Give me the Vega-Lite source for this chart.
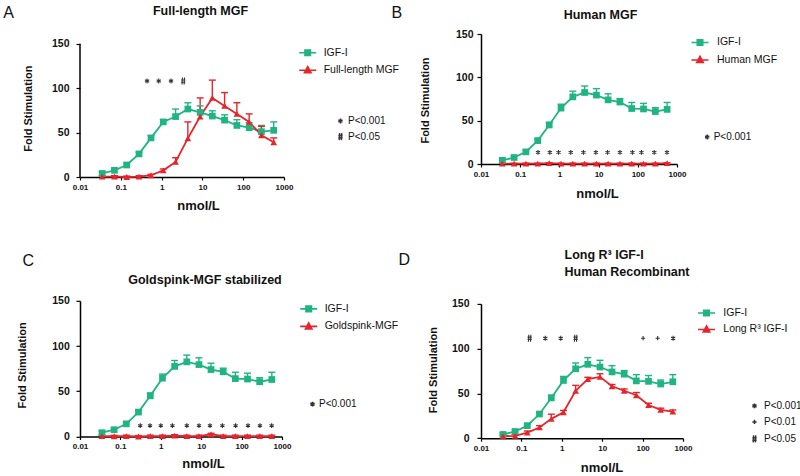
{
  "$schema": "https://vega.github.io/schema/vega-lite/v6.json",
  "background": "white",
  "padding": {"left": 2, "top": 4, "right": 0, "bottom": 0},
  "config": {
    "font": "Liberation Sans",
    "view": {"stroke": null},
    "axis": {"grid": false, "domainColor": "#000", "domainWidth": 1.5, "tickColor": "#000", "tickWidth": 1.2, "labelColor": "#111", "labelFont": "Liberation Sans", "labelFontWeight": "bold", "titleFont": "Liberation Sans", "titleFontWeight": "bold", "titleColor": "#111", "labelFlush": false, "labelOverlap": false},
    "axisX": {"labelFontSize": 8, "tickSize": 3, "labelPadding": 3, "titleFontSize": 13},
    "axisY": {"labelFontSize": 10.5, "tickSize": 4, "titleFontSize": 11},
    "legend": {"labelFont": "Liberation Sans", "labelColor": "#111", "padding": 0}
  },
  "datasets": {
    "A": [
      {"series": "IGF-I", "x": 0.035, "y": 4, "err": 6},
      {"series": "IGF-I", "x": 0.07, "y": 7.5, "err": 9.5},
      {"series": "IGF-I", "x": 0.14, "y": 13.5, "err": 15.5},
      {"series": "IGF-I", "x": 0.28, "y": 26, "err": 28},
      {"series": "IGF-I", "x": 0.55, "y": 44, "err": 46.5},
      {"series": "IGF-I", "x": 1.1, "y": 62, "err": 64.5},
      {"series": "IGF-I", "x": 2.2, "y": 68, "err": 76.5},
      {"series": "IGF-I", "x": 4.4, "y": 76.5, "err": 83.5},
      {"series": "IGF-I", "x": 8.8, "y": 72.7, "err": 80},
      {"series": "IGF-I", "x": 17.5, "y": 68.6, "err": 74.5},
      {"series": "IGF-I", "x": 35, "y": 64, "err": 70},
      {"series": "IGF-I", "x": 70, "y": 58, "err": 64.5},
      {"series": "IGF-I", "x": 140, "y": 55.5, "err": 61},
      {"series": "IGF-I", "x": 280, "y": 51, "err": 58},
      {"series": "IGF-I", "x": 560, "y": 52.5, "err": 62},
      {"series": "Full-length MGF", "x": 0.035, "y": 0.4, "err": 1.5},
      {"series": "Full-length MGF", "x": 0.07, "y": 0.5, "err": 1.5},
      {"series": "Full-length MGF", "x": 0.14, "y": 0, "err": 1},
      {"series": "Full-length MGF", "x": 0.28, "y": 0.5, "err": 1.5},
      {"series": "Full-length MGF", "x": 0.55, "y": 2, "err": 3},
      {"series": "Full-length MGF", "x": 1.1, "y": 7.5, "err": 9},
      {"series": "Full-length MGF", "x": 2.2, "y": 17, "err": 21.7},
      {"series": "Full-length MGF", "x": 4.4, "y": 43.5, "err": 62},
      {"series": "Full-length MGF", "x": 8.8, "y": 68, "err": 89},
      {"series": "Full-length MGF", "x": 17.5, "y": 89, "err": 109},
      {"series": "Full-length MGF", "x": 35, "y": 80, "err": 95},
      {"series": "Full-length MGF", "x": 70, "y": 71, "err": 83.6},
      {"series": "Full-length MGF", "x": 140, "y": 62, "err": 71},
      {"series": "Full-length MGF", "x": 280, "y": 47, "err": 57},
      {"series": "Full-length MGF", "x": 560, "y": 39, "err": 44}
    ],
    "B": [
      {"series": "IGF-I", "x": 0.035, "y": 4.2, "err": 6},
      {"series": "IGF-I", "x": 0.07, "y": 7.5, "err": 9.5},
      {"series": "IGF-I", "x": 0.14, "y": 14, "err": 16},
      {"series": "IGF-I", "x": 0.28, "y": 27, "err": 29},
      {"series": "IGF-I", "x": 0.55, "y": 45, "err": 48},
      {"series": "IGF-I", "x": 1.1, "y": 64.5, "err": 69},
      {"series": "IGF-I", "x": 2.2, "y": 77.5, "err": 84},
      {"series": "IGF-I", "x": 4.4, "y": 82.5, "err": 90},
      {"series": "IGF-I", "x": 8.8, "y": 79.5, "err": 87},
      {"series": "IGF-I", "x": 17.5, "y": 74, "err": 81},
      {"series": "IGF-I", "x": 35, "y": 71.5, "err": 75.5},
      {"series": "IGF-I", "x": 70, "y": 64, "err": 71},
      {"series": "IGF-I", "x": 140, "y": 63.5, "err": 70},
      {"series": "IGF-I", "x": 280, "y": 60.5, "err": 65},
      {"series": "IGF-I", "x": 560, "y": 63, "err": 71},
      {"series": "Human MGF", "x": 0.035, "y": 0.5, "err": 1},
      {"series": "Human MGF", "x": 0.07, "y": 0.5, "err": 1},
      {"series": "Human MGF", "x": 0.14, "y": 0.5, "err": 1},
      {"series": "Human MGF", "x": 0.28, "y": 0.5, "err": 1},
      {"series": "Human MGF", "x": 0.55, "y": 1, "err": 1.5},
      {"series": "Human MGF", "x": 1.1, "y": 0.5, "err": 1},
      {"series": "Human MGF", "x": 2.2, "y": 0.5, "err": 1},
      {"series": "Human MGF", "x": 4.4, "y": 0.5, "err": 1},
      {"series": "Human MGF", "x": 8.8, "y": 0.5, "err": 1},
      {"series": "Human MGF", "x": 17.5, "y": 0.5, "err": 1},
      {"series": "Human MGF", "x": 35, "y": 0.5, "err": 1},
      {"series": "Human MGF", "x": 70, "y": 0.5, "err": 1},
      {"series": "Human MGF", "x": 140, "y": 0.5, "err": 1},
      {"series": "Human MGF", "x": 280, "y": 0.5, "err": 1},
      {"series": "Human MGF", "x": 560, "y": 1, "err": 1.5}
    ],
    "C": [
      {"series": "IGF-I", "x": 0.035, "y": 4.2, "err": 6},
      {"series": "IGF-I", "x": 0.07, "y": 7.5, "err": 9.5},
      {"series": "IGF-I", "x": 0.14, "y": 14, "err": 16},
      {"series": "IGF-I", "x": 0.28, "y": 27, "err": 29},
      {"series": "IGF-I", "x": 0.55, "y": 45, "err": 48},
      {"series": "IGF-I", "x": 1.1, "y": 64.5, "err": 69},
      {"series": "IGF-I", "x": 2.2, "y": 77.5, "err": 84},
      {"series": "IGF-I", "x": 4.4, "y": 82.5, "err": 90},
      {"series": "IGF-I", "x": 8.8, "y": 79.5, "err": 87},
      {"series": "IGF-I", "x": 17.5, "y": 74, "err": 81},
      {"series": "IGF-I", "x": 35, "y": 71.5, "err": 75.5},
      {"series": "IGF-I", "x": 70, "y": 64, "err": 71},
      {"series": "IGF-I", "x": 140, "y": 63.5, "err": 70},
      {"series": "IGF-I", "x": 280, "y": 60.5, "err": 65},
      {"series": "IGF-I", "x": 560, "y": 63, "err": 71},
      {"series": "Goldspink-MGF", "x": 0.035, "y": 0.5, "err": 1.5},
      {"series": "Goldspink-MGF", "x": 0.07, "y": 0.3, "err": 1.3},
      {"series": "Goldspink-MGF", "x": 0.14, "y": 0.5, "err": 1.5},
      {"series": "Goldspink-MGF", "x": 0.28, "y": 0, "err": 1},
      {"series": "Goldspink-MGF", "x": 0.55, "y": 0.5, "err": 1.5},
      {"series": "Goldspink-MGF", "x": 1.1, "y": 0.5, "err": 1.5},
      {"series": "Goldspink-MGF", "x": 2.2, "y": 1, "err": 2},
      {"series": "Goldspink-MGF", "x": 4.4, "y": 0.5, "err": 1.5},
      {"series": "Goldspink-MGF", "x": 8.8, "y": 0.5, "err": 1.5},
      {"series": "Goldspink-MGF", "x": 17.5, "y": 2.5, "err": 3.5},
      {"series": "Goldspink-MGF", "x": 35, "y": 0.5, "err": 1.5},
      {"series": "Goldspink-MGF", "x": 70, "y": 0.5, "err": 1.5},
      {"series": "Goldspink-MGF", "x": 140, "y": 0.5, "err": 1.5},
      {"series": "Goldspink-MGF", "x": 280, "y": 0.5, "err": 1.5},
      {"series": "Goldspink-MGF", "x": 560, "y": 0.5, "err": 1.5}
    ],
    "D": [
      {"series": "IGF-I", "x": 0.035, "y": 4.2, "err": 6},
      {"series": "IGF-I", "x": 0.07, "y": 7.5, "err": 9.5},
      {"series": "IGF-I", "x": 0.14, "y": 14, "err": 16},
      {"series": "IGF-I", "x": 0.28, "y": 27, "err": 29},
      {"series": "IGF-I", "x": 0.55, "y": 45, "err": 48},
      {"series": "IGF-I", "x": 1.1, "y": 64.5, "err": 69},
      {"series": "IGF-I", "x": 2.2, "y": 77.5, "err": 84},
      {"series": "IGF-I", "x": 4.4, "y": 82.5, "err": 90},
      {"series": "IGF-I", "x": 8.8, "y": 79.5, "err": 87},
      {"series": "IGF-I", "x": 17.5, "y": 74, "err": 81},
      {"series": "IGF-I", "x": 35, "y": 71.5, "err": 75.5},
      {"series": "IGF-I", "x": 70, "y": 64, "err": 71},
      {"series": "IGF-I", "x": 140, "y": 63.5, "err": 70},
      {"series": "IGF-I", "x": 280, "y": 60.5, "err": 65},
      {"series": "IGF-I", "x": 560, "y": 63, "err": 71},
      {"series": "Long R³ IGF-I", "x": 0.035, "y": 2.2, "err": 3.5},
      {"series": "Long R³ IGF-I", "x": 0.07, "y": 2.6, "err": 4},
      {"series": "Long R³ IGF-I", "x": 0.14, "y": 6.3, "err": 8},
      {"series": "Long R³ IGF-I", "x": 0.28, "y": 12, "err": 14},
      {"series": "Long R³ IGF-I", "x": 0.55, "y": 21.6, "err": 26.8},
      {"series": "Long R³ IGF-I", "x": 1.1, "y": 29, "err": 31},
      {"series": "Long R³ IGF-I", "x": 2.2, "y": 53, "err": 59},
      {"series": "Long R³ IGF-I", "x": 4.4, "y": 66, "err": 68},
      {"series": "Long R³ IGF-I", "x": 8.8, "y": 68.5, "err": 72},
      {"series": "Long R³ IGF-I", "x": 17.5, "y": 58, "err": 60},
      {"series": "Long R³ IGF-I", "x": 35, "y": 53, "err": 55},
      {"series": "Long R³ IGF-I", "x": 70, "y": 48, "err": 51},
      {"series": "Long R³ IGF-I", "x": 140, "y": 37, "err": 39},
      {"series": "Long R³ IGF-I", "x": 280, "y": 31.6, "err": 33.5},
      {"series": "Long R³ IGF-I", "x": 560, "y": 29.8, "err": 31.5}
    ],
    "sA": [
      {"x": 0.44, "y": 108, "sig": "P<0.001"},
      {"x": 0.85, "y": 108, "sig": "P<0.001"},
      {"x": 1.7, "y": 108, "sig": "P<0.001"},
      {"x": 3.4, "y": 108, "sig": "P<0.05"}
    ],
    "sB": [
      {"x": 0.285, "y": 13.4, "sig": "P<0.001"},
      {"x": 0.57, "y": 13.4, "sig": "P<0.001"},
      {"x": 0.95, "y": 13.4, "sig": "P<0.001"},
      {"x": 1.95, "y": 13.4, "sig": "P<0.001"},
      {"x": 4.1, "y": 13.4, "sig": "P<0.001"},
      {"x": 8.5, "y": 13.4, "sig": "P<0.001"},
      {"x": 16.9, "y": 13.4, "sig": "P<0.001"},
      {"x": 35, "y": 13.4, "sig": "P<0.001"},
      {"x": 73, "y": 13.4, "sig": "P<0.001"},
      {"x": 124, "y": 13.4, "sig": "P<0.001"},
      {"x": 263, "y": 13.4, "sig": "P<0.001"},
      {"x": 554, "y": 13.4, "sig": "P<0.001"}
    ],
    "sC": [
      {"x": 0.31, "y": 12, "sig": "P<0.001"},
      {"x": 0.54, "y": 12, "sig": "P<0.001"},
      {"x": 1.0, "y": 12, "sig": "P<0.001"},
      {"x": 1.94, "y": 12, "sig": "P<0.001"},
      {"x": 4.4, "y": 12, "sig": "P<0.001"},
      {"x": 8.8, "y": 12, "sig": "P<0.001"},
      {"x": 16.5, "y": 12, "sig": "P<0.001"},
      {"x": 33.5, "y": 12, "sig": "P<0.001"},
      {"x": 71, "y": 12, "sig": "P<0.001"},
      {"x": 144, "y": 12, "sig": "P<0.001"},
      {"x": 284, "y": 12, "sig": "P<0.001"},
      {"x": 554, "y": 12, "sig": "P<0.001"}
    ],
    "sD": [
      {"x": 0.16, "y": 111.7, "sig": "P<0.05"},
      {"x": 0.39, "y": 111.7, "sig": "P<0.001"},
      {"x": 0.94, "y": 111.7, "sig": "P<0.001"},
      {"x": 2.2, "y": 111.7, "sig": "P<0.05"},
      {"x": 103, "y": 111.7, "sig": "P<0.01"},
      {"x": 236, "y": 111.7, "sig": "P<0.01"},
      {"x": 570, "y": 111.7, "sig": "P<0.001"}
    ]
  },
  "columns": 2,
  "align": "none",
  "bounds": "full",
  "spacing": -9,
  "resolve": {"scale": {"color": "independent", "shape": "independent"}},
  "concat": [
    {
      "vconcat": [
        {
          "width": 204, "height": 143,
          "data": {"name": "A"},
          "encoding": {
            "color": {"field": "series", "type": "nominal", "scale": {"domain": ["IGF-I", "Full-length MGF"], "range": ["#1fb482", "#e8242b"]},
              "legend": {"orient": "none", "legendX": 221.7, "legendY": 12.75, "title": null, "symbolSize": 100, "labelOffset": 10, "rowPadding": 4.5, "labelFontSize": 10.5, "labelLimit": 0,
                "encode": {"symbols": {"update": {"shape": {"signal": "datum.value === 'IGF-I' ? 'M-1.7,0H1.7M-0.55,-0.55H0.55V0.55H-0.55Z' : 'M-1.7,0H1.7M0,-0.7L0.65,0.5H-0.65Z'"}, "fill": {"signal": "datum.value === 'IGF-I' ? '#1fb482' : '#e8242b'"}, "stroke": {"signal": "datum.value === 'IGF-I' ? '#1fb482' : '#e8242b'"}, "strokeWidth": {"value": 1.6}, "opacity": {"value": 1}}}}}}
          },
          "layer": [
            {"data": {"values": [{}]},
             "mark": {"type": "rule", "strokeWidth": 1.5},
             "encoding": {"x": {"datum": 0.01, "type": "quantitative", "axis": null}, "y": {"datum": 0, "type": "quantitative", "axis": null}, "y2": {"datum": 150}, "color": {"value": "#000"}}},
            {"mark": {"type": "line", "strokeWidth": 1.8},
             "encoding": {
               "x": {"field": "x", "type": "quantitative", "scale": {"type": "log", "domain": [0.01, 1000], "nice": false},
                     "axis": {"orient": "bottom", "values": [0.01, 0.1, 1, 10, 100, 1000], "format": "~g", "title": "nmol/L", "titleX": 118, "titleY": 32, "titleAlign": "center", "titleBaseline": "alphabetic"}},
               "y": {"field": "y", "type": "quantitative", "scale": {"domain": [0, 160.91], "nice": false},
                     "axis": {"orient": "left", "domain": false, "values": [0, 50, 100, 150], "labelPadding": 7, "title": "Fold Stimulation", "titleX": -52, "titleY": 74.2, "titleAngle": 270, "titleAlign": "center", "titleBaseline": "middle"}}
             }},
            {"mark": {"type": "rule", "strokeWidth": 1.4},
             "encoding": {"x": {"field": "x", "type": "quantitative", "axis": null}, "y": {"field": "y", "type": "quantitative", "axis": null}, "y2": {"field": "err"}}},
            {"mark": {"type": "tick", "orient": "horizontal", "size": 7, "thickness": 1.4, "opacity": 1},
             "encoding": {"x": {"field": "x", "type": "quantitative", "axis": {"orient": "top", "domain": false, "ticks": false, "labels": false, "title": "Full-length MGF", "titleX": 120, "titleY": -19.3, "titleAlign": "center", "titleBaseline": "alphabetic", "titleFontSize": 12.5}},
                          "y": {"field": "err", "type": "quantitative", "axis": null}}},
            {"mark": {"type": "point", "filled": true, "size": 45, "opacity": 1},
             "encoding": {"x": {"field": "x", "type": "quantitative", "axis": null}, "y": {"field": "y", "type": "quantitative", "axis": null},
                          "shape": {"condition": {"test": "datum.series === 'IGF-I'", "value": "square"}, "value": "triangle-up"}}},
            {"data": {"name": "sA"},
             "mark": {"type": "point", "filled": false, "size": 49, "strokeWidth": 1.1, "opacity": 1},
             "encoding": {"x": {"field": "x", "type": "quantitative", "axis": null},
                          "y": {"field": "y", "type": "quantitative", "axis": {"orient": "right", "domain": false, "ticks": false, "labels": false, "title": "A", "titleX": -281.3, "titleY": -16.8, "titleAngle": 0, "titleAlign": "left", "titleBaseline": "alphabetic", "titleFontSize": 16, "titleFontWeight": "normal"}},
                          "color": {"value": "#333"},
                          "shape": {"field": "sig", "type": "nominal", "scale": {"domain": ["P<0.001", "P<0.05"], "range": ["M0,-0.7V0.7M-0.6,-0.35L0.6,0.35M-0.6,0.35L0.6,-0.35", "M-0.25,-1L-0.35,1M0.35,-1L0.25,1M-0.6,-0.3H0.6M-0.6,0.35H0.6"]},
                                    "legend": {"orient": "none", "legendX": 255.5, "legendY": 82, "title": null, "symbolSize": 49, "labelOffset": 2.5, "rowPadding": 2.6, "labelFontSize": 10, "labelFontWeight": "normal",
                                               "encode": {"symbols": {"update": {"stroke": {"value": "#333"}, "fill": {"value": "transparent"}, "strokeWidth": {"value": 1.1}, "opacity": {"value": 1}}}}}}}}
          ]
        },
        {
          "width": 202, "height": 135.7,
          "data": {"name": "C"},
          "encoding": {
            "color": {"field": "series", "type": "nominal", "scale": {"domain": ["IGF-I", "Goldspink-MGF"], "range": ["#1fb482", "#e8242b"]},
              "legend": {"orient": "none", "legendX": 222.7, "legendY": 2.05, "title": null, "symbolSize": 100, "labelOffset": 10, "rowPadding": 4.5, "labelFontSize": 10.5, "labelLimit": 0,
                "encode": {"symbols": {"update": {"shape": {"signal": "datum.value === 'IGF-I' ? 'M-1.7,0H1.7M-0.55,-0.55H0.55V0.55H-0.55Z' : 'M-1.7,0H1.7M0,-0.7L0.65,0.5H-0.65Z'"}, "fill": {"signal": "datum.value === 'IGF-I' ? '#1fb482' : '#e8242b'"}, "stroke": {"signal": "datum.value === 'IGF-I' ? '#1fb482' : '#e8242b'"}, "strokeWidth": {"value": 1.6}, "opacity": {"value": 1}}}}}}
          },
          "layer": [
            {"mark": {"type": "line", "strokeWidth": 1.8},
             "encoding": {
               "x": {"field": "x", "type": "quantitative", "scale": {"type": "log", "domain": [0.01, 1000], "nice": false},
                     "axis": {"orient": "bottom", "values": [0.01, 0.1, 1, 10, 100, 1000], "format": "~g", "title": "nmol/L", "titleX": 123, "titleY": 30.8, "titleAlign": "center", "titleBaseline": "alphabetic"}},
               "y": {"field": "y", "type": "quantitative", "scale": {"domain": [0, 150], "nice": false},
                     "axis": {"orient": "left", "values": [0, 50, 100, 150], "labelPadding": 6.7, "title": "Fold Stimulation", "titleX": -58, "titleY": 64, "titleAngle": 270, "titleAlign": "center", "titleBaseline": "middle"}}
             }},
            {"mark": {"type": "rule", "strokeWidth": 1.4},
             "encoding": {"x": {"field": "x", "type": "quantitative", "axis": null}, "y": {"field": "y", "type": "quantitative", "axis": null}, "y2": {"field": "err"}}},
            {"mark": {"type": "tick", "orient": "horizontal", "size": 7, "thickness": 1.4, "opacity": 1},
             "encoding": {"x": {"field": "x", "type": "quantitative", "axis": {"orient": "top", "domain": false, "ticks": false, "labels": false, "title": "Goldspink-MGF stabilized", "titleX": 124.5, "titleY": -17.7, "titleAlign": "center", "titleBaseline": "alphabetic", "titleFontSize": 12.5}},
                          "y": {"field": "err", "type": "quantitative", "axis": null}}},
            {"mark": {"type": "point", "filled": true, "size": 45, "opacity": 1},
             "encoding": {"x": {"field": "x", "type": "quantitative", "axis": null}, "y": {"field": "y", "type": "quantitative", "axis": null},
                          "shape": {"condition": {"test": "datum.series === 'IGF-I'", "value": "square"}, "value": "triangle-up"}}},
            {"data": {"name": "sC"},
             "mark": {"type": "point", "filled": false, "size": 49, "strokeWidth": 1.1, "opacity": 1},
             "encoding": {"x": {"field": "x", "type": "quantitative", "axis": null},
                          "y": {"field": "y", "type": "quantitative", "axis": {"orient": "right", "domain": false, "ticks": false, "labels": false, "title": "C", "titleX": -260, "titleY": -35, "titleAngle": 0, "titleAlign": "left", "titleBaseline": "alphabetic", "titleFontSize": 16, "titleFontWeight": "normal"}},
                          "color": {"value": "#333"},
                          "shape": {"field": "sig", "type": "nominal", "scale": {"domain": ["P<0.001"], "range": ["M0,-0.7V0.7M-0.6,-0.35L0.6,0.35M-0.6,0.35L0.6,-0.35"]},
                                    "legend": {"orient": "none", "legendX": 227.5, "legendY": 98.3, "title": null, "symbolSize": 49, "labelOffset": 1.5, "rowPadding": 3.3, "labelFontSize": 10, "labelFontWeight": "normal",
                                               "encode": {"symbols": {"update": {"stroke": {"value": "#333"}, "fill": {"value": "transparent"}, "strokeWidth": {"value": 1.1}, "opacity": {"value": 1}}}}}}}}
          ]
        }
      ],
      "spacing": 40.8,
      "bounds": "full",
      "resolve": {"scale": {"color": "independent", "shape": "independent"}}
    },
    {
      "vconcat": [
        {
          "width": 196, "height": 130,
          "data": {"name": "B"},
          "encoding": {
            "color": {"field": "series", "type": "nominal", "scale": {"domain": ["IGF-I", "Human MGF"], "range": ["#1fb482", "#e8242b"]},
              "legend": {"orient": "none", "legendX": 213, "legendY": 2.45, "title": null, "symbolSize": 100, "labelOffset": 11, "rowPadding": 4.5, "labelFontSize": 10.5, "labelLimit": 0,
                "encode": {"symbols": {"update": {"shape": {"signal": "datum.value === 'IGF-I' ? 'M-1.7,0H1.7M-0.55,-0.55H0.55V0.55H-0.55Z' : 'M-1.7,0H1.7M0,-0.7L0.65,0.5H-0.65Z'"}, "fill": {"signal": "datum.value === 'IGF-I' ? '#1fb482' : '#e8242b'"}, "stroke": {"signal": "datum.value === 'IGF-I' ? '#1fb482' : '#e8242b'"}, "strokeWidth": {"value": 1.6}, "opacity": {"value": 1}}}}}}
          },
          "layer": [
            {"mark": {"type": "line", "strokeWidth": 1.8},
             "encoding": {
               "x": {"field": "x", "type": "quantitative", "scale": {"type": "log", "domain": [0.01, 1000], "nice": false},
                     "axis": {"orient": "bottom", "values": [0.01, 0.1, 1, 10, 100, 1000], "format": "~g", "title": "nmol/L", "titleX": 116, "titleY": 33.5, "titleAlign": "center", "titleBaseline": "alphabetic"}},
               "y": {"field": "y", "type": "quantitative", "scale": {"domain": [0, 150], "nice": false},
                     "axis": {"orient": "left", "values": [0, 50, 100, 150], "labelPadding": 4, "title": "Fold Stimulation", "titleX": -56, "titleY": 66, "titleAngle": 270, "titleAlign": "center", "titleBaseline": "middle"}}
             }},
            {"mark": {"type": "rule", "strokeWidth": 1.4},
             "encoding": {"x": {"field": "x", "type": "quantitative", "axis": null}, "y": {"field": "y", "type": "quantitative", "axis": null}, "y2": {"field": "err"}}},
            {"mark": {"type": "tick", "orient": "horizontal", "size": 7, "thickness": 1.4, "opacity": 1},
             "encoding": {"x": {"field": "x", "type": "quantitative", "axis": {"orient": "top", "domain": false, "ticks": false, "labels": false, "title": "Human MGF", "titleX": 119, "titleY": -15.7, "titleAlign": "center", "titleBaseline": "alphabetic", "titleFontSize": 12.5}},
                          "y": {"field": "err", "type": "quantitative", "axis": null}}},
            {"mark": {"type": "point", "filled": true, "size": 45, "opacity": 1},
             "encoding": {"x": {"field": "x", "type": "quantitative", "axis": null}, "y": {"field": "y", "type": "quantitative", "axis": null},
                          "shape": {"condition": {"test": "datum.series === 'IGF-I'", "value": "square"}, "value": "triangle-up"}}},
            {"data": {"name": "sB"},
             "mark": {"type": "point", "filled": false, "size": 49, "strokeWidth": 1.1, "opacity": 1},
             "encoding": {"x": {"field": "x", "type": "quantitative", "axis": null},
                          "y": {"field": "y", "type": "quantitative", "axis": {"orient": "right", "domain": false, "ticks": false, "labels": false, "title": "B", "titleX": -286, "titleY": -16.5, "titleAngle": 0, "titleAlign": "left", "titleBaseline": "alphabetic", "titleFontSize": 16, "titleFontWeight": "normal"}},
                          "color": {"value": "#333"},
                          "shape": {"field": "sig", "type": "nominal", "scale": {"domain": ["P<0.001"], "range": ["M0,-0.7V0.7M-0.6,-0.35L0.6,0.35M-0.6,0.35L0.6,-0.35"]},
                                    "legend": {"orient": "none", "legendX": 221.2, "legendY": 98, "title": null, "symbolSize": 49, "labelOffset": 1.5, "rowPadding": 3.3, "labelFontSize": 10, "labelFontWeight": "normal",
                                               "encode": {"symbols": {"update": {"stroke": {"value": "#333"}, "fill": {"value": "transparent"}, "strokeWidth": {"value": 1.1}, "opacity": {"value": 1}}}}}}}}
          ]
        },
        {
          "width": 202, "height": 134.3,
          "data": {"name": "D"},
          "encoding": {
            "color": {"field": "series", "type": "nominal", "scale": {"domain": ["IGF-I", "Long R³ IGF-I"], "range": ["#1fb482", "#e8242b"]},
              "legend": {"orient": "none", "legendX": 219.5, "legendY": 3.05, "title": null, "symbolSize": 100, "labelOffset": 10.8, "rowPadding": 3.5, "labelFontSize": 10.5, "labelLimit": 0,
                "encode": {"symbols": {"update": {"shape": {"signal": "datum.value === 'IGF-I' ? 'M-1.7,0H1.7M-0.55,-0.55H0.55V0.55H-0.55Z' : 'M-1.7,0H1.7M0,-0.7L0.65,0.5H-0.65Z'"}, "fill": {"signal": "datum.value === 'IGF-I' ? '#1fb482' : '#e8242b'"}, "stroke": {"signal": "datum.value === 'IGF-I' ? '#1fb482' : '#e8242b'"}, "strokeWidth": {"value": 1.6}, "opacity": {"value": 1}}}}}}
          },
          "layer": [
            {"mark": {"type": "line", "strokeWidth": 1.8},
             "encoding": {
               "x": {"field": "x", "type": "quantitative", "scale": {"type": "log", "domain": [0.01, 1000], "nice": false},
                     "axis": {"orient": "bottom", "values": [0.01, 0.1, 1, 10, 100, 1000], "format": "~g", "title": "nmol/L", "titleX": 120.5, "titleY": 33, "titleAlign": "center", "titleBaseline": "alphabetic"}},
               "y": {"field": "y", "type": "quantitative", "scale": {"domain": [0, 150], "nice": false},
                     "axis": {"orient": "left", "values": [0, 50, 100, 150], "labelPadding": 8, "title": "Fold Stimulation", "titleX": -47.5, "titleY": 65.7, "titleAngle": 270, "titleAlign": "center", "titleBaseline": "middle"}}
             }},
            {"mark": {"type": "rule", "strokeWidth": 1.4},
             "encoding": {"x": {"field": "x", "type": "quantitative", "axis": null}, "y": {"field": "y", "type": "quantitative", "axis": null}, "y2": {"field": "err"}}},
            {"mark": {"type": "tick", "orient": "horizontal", "size": 7, "thickness": 1.4, "opacity": 1},
             "encoding": {"x": {"field": "x", "type": "quantitative", "axis": {"orient": "top", "domain": false, "ticks": false, "labels": false, "title": ["Long R³ IGF-I", "Human Recombinant"], "titleX": 83, "titleY": -45, "titleAlign": "left", "titleBaseline": "alphabetic", "titleFontSize": 12.5, "titleLineHeight": 17}},
                          "y": {"field": "err", "type": "quantitative", "axis": null}}},
            {"mark": {"type": "point", "filled": true, "size": 45, "opacity": 1},
             "encoding": {"x": {"field": "x", "type": "quantitative", "axis": null}, "y": {"field": "y", "type": "quantitative", "axis": null},
                          "shape": {"condition": {"test": "datum.series === 'IGF-I'", "value": "square"}, "value": "triangle-up"}}},
            {"data": {"name": "sD"},
             "mark": {"type": "point", "filled": false, "size": 49, "strokeWidth": 1.1, "opacity": 1},
             "encoding": {"x": {"field": "x", "type": "quantitative", "axis": null},
                          "y": {"field": "y", "type": "quantitative", "axis": {"orient": "right", "domain": false, "ticks": false, "labels": false, "title": "D", "titleX": -285, "titleY": -39, "titleAngle": 0, "titleAlign": "left", "titleBaseline": "alphabetic", "titleFontSize": 16, "titleFontWeight": "normal"}},
                          "color": {"value": "#333"},
                          "shape": {"field": "sig", "type": "nominal", "scale": {"domain": ["P<0.001", "P<0.01", "P<0.05"], "range": ["M0,-0.7V0.7M-0.6,-0.35L0.6,0.35M-0.6,0.35L0.6,-0.35", "M0,-0.6V0.6M-0.6,0H0.6", "M-0.25,-1L-0.35,1M0.35,-1L0.25,1M-0.6,-0.3H0.6M-0.6,0.35H0.6"]},
                                    "legend": {"orient": "none", "legendX": 268.5, "legendY": 97, "title": null, "symbolSize": 49, "labelOffset": 4.5, "rowPadding": 4, "labelFontSize": 10, "labelFontWeight": "normal",
                                               "encode": {"symbols": {"update": {"stroke": {"value": "#333"}, "fill": {"value": "transparent"}, "strokeWidth": {"value": 1.1}, "opacity": {"value": 1}}}}}}}}
          ]
        }
      ],
      "spacing": 47.9,
      "bounds": "full",
      "resolve": {"scale": {"color": "independent", "shape": "independent"}}
    }
  ]
}
